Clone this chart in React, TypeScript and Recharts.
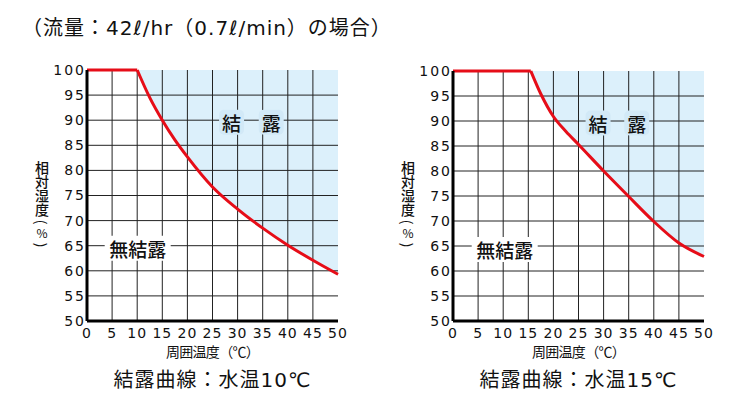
import { ComposedChart, Line, Area, XAxis, YAxis, ReferenceLine, ReferenceDot } from 'recharts';

const xTicks = [0, 5, 10, 15, 20, 25, 30, 35, 40, 45, 50];
const yTicks = [50, 55, 60, 65, 70, 75, 80, 85, 90, 95, 100];
const gridX = [5, 10, 15, 20, 25, 30, 35, 40, 45];
const gridY = [55, 60, 65, 70, 75, 80, 85, 90, 95];

// water 10°C
const temps10 = [10, 12.5, 15, 17.5, 20, 25, 30, 35, 40, 45, 50];
const rh10 = [100, 94.5, 90, 86.1, 82.7, 76.7, 72.3, 68.5, 65.1, 62.1, 59.3];
// water 15°C
const temps15 = [15.5, 17.5, 20, 22.5, 25, 30, 35, 40, 45, 50];
const rh15 = [100, 95.4, 90.9, 87.9, 85.3, 80, 74.9, 69.9, 65.6, 62.9];

const RED = '#e60d18';
const BLUE = '#dcf0fb';
const BLUE_LABEL = '#d2e9f7';
const JP = '"Noto Sans CJK JP", "Noto Sans", sans-serif';
const MIX = '"DejaVu Sans", "Noto Sans CJK JP", sans-serif';
const NUM = '"DejaVu Sans", sans-serif';

type ChartProps = {
  left: number;
  temps: number[];
  rh: number[];
  caption: string;
  marginLeft: number;
  marginRight: number;
  marginTop: number;
  labels: { x: number; y: number; text: string; bg: string; w: number }[];
};

const TagShape = (bg: string, w: number, text: string) => (p: any) => (
  <g>
    <rect x={p.cx - w / 2} y={p.cy - 12.5} width={w} height={25} rx={5} fill={bg} />
    <text x={p.cx} y={p.cy} textAnchor="middle" dominantBaseline="central" fontSize={19} fontWeight={500} fontFamily={JP} fill="#111">
      {text}
    </text>
  </g>
);

const Paren = ({ c }: { c: string }) => (
  <div style={{ height: 9, display: 'flex', justifyContent: 'center', alignItems: 'center' }}>
    <span style={{ display: 'inline-block', lineHeight: '12px', transform: 'rotate(90deg)' }}>{c}</span>
  </div>
);

// vertical axis title: 相対湿度(%)
const YLabel = ({ left }: { left: number }) => (
  <div style={{ position: 'absolute', left, top: 161, width: 16, fontFamily: JP, color: '#111', fontSize: 14 }}>
    <div style={{ writingMode: 'vertical-rl', lineHeight: '16px', fontWeight: 500, height: 56 }}>相対湿度</div>
    <Paren c="(" />
    <div style={{ height: 14, lineHeight: '14px', fontSize: 12, textAlign: 'center' }}>%</div>
    <Paren c=")" />
  </div>
);

const DewChart = ({ left, temps, rh, caption, marginLeft, marginRight, marginTop, labels }: ChartProps) => {
  const curve = temps.map((t, i) => ({ t, rh: rh[i], band: [rh[i], 100] }));
  const flat = [
    { t: 0, rh: 100 },
    { t: temps[0], rh: 100 },
  ];
  const plotLeft = left + marginLeft + 40;
  const plotRight = left + 370 - marginRight;
  const mid = (plotLeft + plotRight) / 2;
  return (
    <>
      <div style={{ position: 'absolute', left, top: 0 }}>
        <ComposedChart width={370} height={408} margin={{ top: marginTop, right: marginRight, bottom: 67, left: marginLeft }}>
          <XAxis
            dataKey="t"
            type="number"
            domain={[0, 50]}
            ticks={xTicks}
            interval={0}
            axisLine={{ stroke: '#000', strokeWidth: 3 }}
            tickLine={false}
            tickSize={4}
            tickMargin={3}
            height={20}
            tick={{ fontSize: 14, fontFamily: NUM, fill: '#111', letterSpacing: 1 }}
          />
          <YAxis
            type="number"
            domain={[50, 100]}
            ticks={yTicks}
            interval={0}
            axisLine={{ stroke: '#000', strokeWidth: 3 }}
            tickLine={false}
            tickSize={0}
            tickMargin={1}
            width={40}
            tick={{ fontSize: 14, fontFamily: NUM, fill: '#111', letterSpacing: 2 }}
          />
          <Area data={curve} dataKey="band" type="monotone" fill={BLUE} fillOpacity={1} stroke="none" isAnimationActive={false} />
          {gridX.map((g) => (
            <ReferenceLine key={'x' + g} x={g} stroke="#222" strokeWidth={1} />
          ))}
          {gridY.map((g) => (
            <ReferenceLine key={'y' + g} y={g} stroke="#222" strokeWidth={1} />
          ))}
          {labels.map((l) => (
            <ReferenceDot key={l.text + l.x} x={l.x} y={l.y} r={0} shape={TagShape(l.bg, l.w, l.text)} />
          ))}
          <Line data={flat} dataKey="rh" type="linear" stroke={RED} strokeWidth={3} dot={false} isAnimationActive={false} />
          <Line data={curve} dataKey="rh" type="monotone" stroke={RED} strokeWidth={3} dot={false} isAnimationActive={false} />
        </ComposedChart>
      </div>
      <YLabel left={left + marginLeft - 13} />
      <div
        style={{
          position: 'absolute',
          left: mid - 60,
          width: 120,
          top: 343,
          textAlign: 'center',
          fontSize: 14,
          letterSpacing: -0.7,
          lineHeight: '17px',
          fontFamily: JP,
          color: '#111',
        }}
      >
        周囲温度（℃）
      </div>
      <div
        style={{
          position: 'absolute',
          left: mid - 120,
          width: 240,
          top: 367,
          textAlign: 'center',
          fontSize: 20,
          lineHeight: '26px',
          letterSpacing: 1,
          fontFamily: MIX,
          color: '#111',
        }}
      >
        {caption}
      </div>
    </>
  );
};

export default function App() {
  return (
    <div style={{ position: 'absolute', left: 0, top: 0, width: 741, height: 408, background: '#fff', overflow: 'hidden' }}>
      <div
        style={{
          position: 'absolute',
          left: 22,
          top: 14,
          fontSize: 20,
          lineHeight: '28px',
          letterSpacing: 1,
          fontFamily: MIX,
          color: '#111',
          whiteSpace: 'nowrap',
        }}
      >
        （流量：42ℓ/hr（0.7ℓ/min）の場合）
      </div>
      <DewChart
        left={0}
        temps={temps10}
        rh={rh10}
        caption="結露曲線：水温10℃"
        marginLeft={47}
        marginRight={32}
        marginTop={70}
        labels={[
          { x: 28.8, y: 89.6, text: '結', bg: BLUE_LABEL, w: 25 },
          { x: 36.7, y: 89.6, text: '露', bg: BLUE_LABEL, w: 25 },
          { x: 10.1, y: 64.5, text: '無結露', bg: '#fff', w: 66 },
        ]}
      />
      <DewChart
        left={370}
        temps={temps15}
        rh={rh15}
        caption="結露曲線：水温15℃"
        marginLeft={43}
        marginRight={36}
        marginTop={71}
        labels={[
          { x: 28.9, y: 89.6, text: '結', bg: BLUE_LABEL, w: 25 },
          { x: 36.6, y: 89.6, text: '露', bg: BLUE_LABEL, w: 25 },
          { x: 10.3, y: 64.3, text: '無結露', bg: '#fff', w: 66 },
        ]}
      />
    </div>
  );
}
